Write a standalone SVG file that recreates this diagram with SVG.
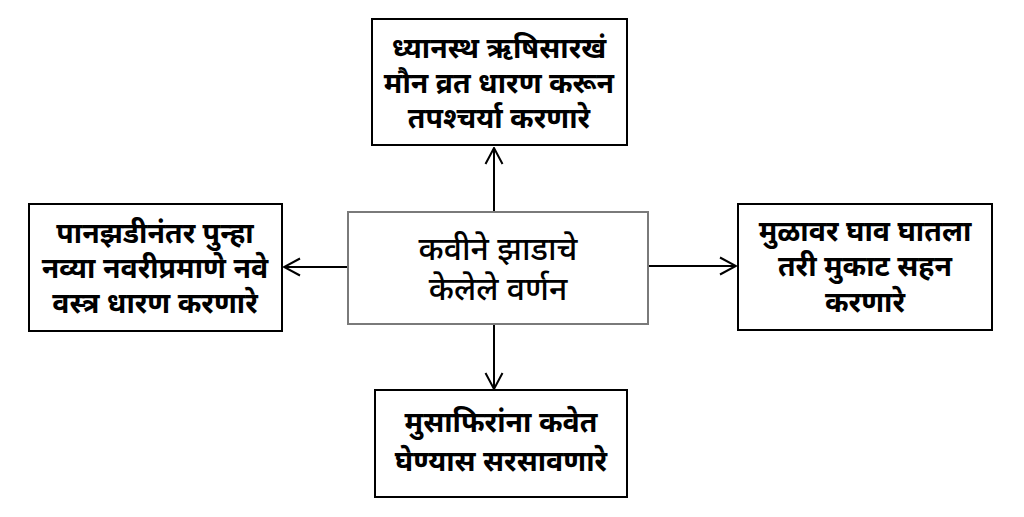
<svg xmlns="http://www.w3.org/2000/svg" width="1024" height="517" viewBox="0 0 1024 517">
<style>
.box{fill:#fff;stroke:#000;stroke-width:2}
.cbox{fill:#fff;stroke:#7a7a7a;stroke-width:2}
.t{font-family:"Noto Sans","Noto Sans Devanagari","Lohit Devanagari","DejaVu Sans",sans-serif;font-size:28.5px;font-weight:bold;fill:#000;text-anchor:middle}
.c{font-family:"Noto Sans","Noto Sans Devanagari","Lohit Devanagari","DejaVu Sans",sans-serif;font-size:32px;font-weight:500;fill:#000;text-anchor:middle}
.ln{stroke:#000;stroke-width:2;fill:none}
</style>
<defs>
<marker id="ah" viewBox="0 0 20 20" refX="19" refY="10" markerWidth="20" markerHeight="20" markerUnits="userSpaceOnUse" orient="auto">
<path d="M3,1.5 L19,10 L3,18.5" fill="none" stroke="#000" stroke-width="2"/>
</marker>
</defs>
<rect width="1024" height="517" fill="#fff"/>
<g id="connectors">
<line class="ln" x1="494" y1="212" x2="494" y2="148" marker-end="url(#ah)"/>
<line class="ln" x1="348" y1="267" x2="284" y2="267" marker-end="url(#ah)"/>
<line class="ln" x1="648" y1="266" x2="736" y2="266" marker-end="url(#ah)"/>
<line class="ln" x1="494" y1="324" x2="494" y2="389" marker-end="url(#ah)"/>
</g>
<g id="center">
<rect class="cbox" x="348" y="212" width="300" height="112"/>
<text class="c" x="498" y="260">कवीने झाडाचे</text>
<text class="c" x="498" y="300">केलेले वर्णन</text>
</g>
<g id="top">
<rect class="box" x="372" y="19" width="255" height="126"/>
<text class="t" x="499" y="58">ध्यानस्थ ऋषिसारखं</text>
<text class="t" x="499" y="93">मौन व्रत धारण करून</text>
<text class="t" x="499" y="128">तपश्चर्या करणारे</text>
</g>
<g id="left">
<rect class="box" x="29" y="204" width="253" height="127"/>
<text class="t" x="155" y="243">पानझडीनंतर पुन्हा</text>
<text class="t" x="155" y="278">नव्या नवरीप्रमाणे नवे</text>
<text class="t" x="155" y="313">वस्त्र धारण करणारे</text>
</g>
<g id="right">
<rect class="box" x="738" y="204" width="254" height="126"/>
<text class="t" x="865" y="241">मुळावर घाव घातला</text>
<text class="t" x="865" y="276">तरी मुकाट सहन</text>
<text class="t" x="865" y="312">करणारे</text>
</g>
<g id="bottom">
<rect class="box" x="375" y="390" width="252" height="107"/>
<text class="t" x="501" y="432">मुसाफिरांना कवेत</text>
<text class="t" x="501" y="471">घेण्यास सरसावणारे</text>
</g>
</svg>
